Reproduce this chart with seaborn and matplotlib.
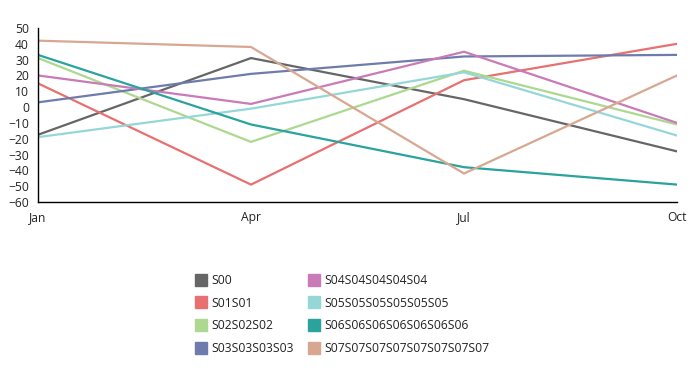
import numpy as np
import pandas as pd
import matplotlib
matplotlib.use("Agg")
import matplotlib.pyplot as plt
from matplotlib.lines import Line2D
import seaborn as sns

MONTHS = ["Jan", "Apr", "Jul", "Oct"]
SERIES = ["S00", "S01S01", "S02S02S02", "S03S03S03S03", "S04S04S04S04S04",
          "S05S05S05S05S05S05", "S06S06S06S06S06S06S06", "S07S07S07S07S07S07S07S07"]
S00 = [-17.5, 31, 5, -28]
S01 = [15, -49, 17, 40]
S02 = [31, -22, 23, -11]
S03 = [3, 21, 32, 33]
S04 = [20, 2, 35, -10]
S05 = [-19, -1, 22, -18]
S06 = [33, -11, -38, -49]
S07 = [42, 38, -42, 20]
COLORS = ["#666666", "#e87070", "#acd890", "#6e7cad", "#c97bb8",
          "#95d7d7", "#2aa39c", "#d8a791"]

values = [S00, S01, S02, S03, S04, S05, S06, S07]
df = pd.DataFrame([(s, i, m, v) for s, vals in zip(SERIES, values)
                   for i, (m, v) in enumerate(zip(MONTHS, vals))],
                  columns=["series", "x", "month", "value"])

sns.set_style("white")
plt.rcParams["font.family"] = ["Open Sans", "DejaVu Sans"]

fig = plt.figure(figsize=(6.98, 3.76), dpi=100)
ax = fig.add_axes([38 / 698, 1 - 202 / 376, (677 - 38) / 698, (202 - 28) / 376])
sns.lineplot(data=df, x="x", y="value", hue="series", palette=COLORS,
             hue_order=SERIES, linewidth=1.6, legend=False, ax=ax)

ax.set_xlim(0, len(MONTHS) - 1)
ax.set_ylim(-60, 50)
ax.set_xticks(range(len(MONTHS)))
ax.set_xticklabels(MONTHS)
ax.set_yticks(np.arange(-60, 51, 10))
ax.set_xlabel("")
ax.set_ylabel("")
for side in ["top", "right"]:
    ax.spines[side].set_visible(False)
for side in ["left", "bottom"]:
    ax.spines[side].set_color("black")
    ax.spines[side].set_linewidth(1)
ax.tick_params(axis="both", direction="out", length=6, width=1, color="black",
               labelsize=8.7, labelcolor="#222222", pad=0.5)

handles = [Line2D([], [], marker="s", linestyle="", markersize=9,
                  markerfacecolor=c, markeredgecolor=c) for c in COLORS]
fig.legend(handles, SERIES, ncol=2, frameon=False, fontsize=8.7,
           loc="upper left", bbox_to_anchor=(184 / 698, 1 - 263 / 376),
           handletextpad=0.4, columnspacing=1.1, labelspacing=0.8,
           handlelength=1.0, labelcolor="#222222")

fig.savefig("out.png", dpi=100)
